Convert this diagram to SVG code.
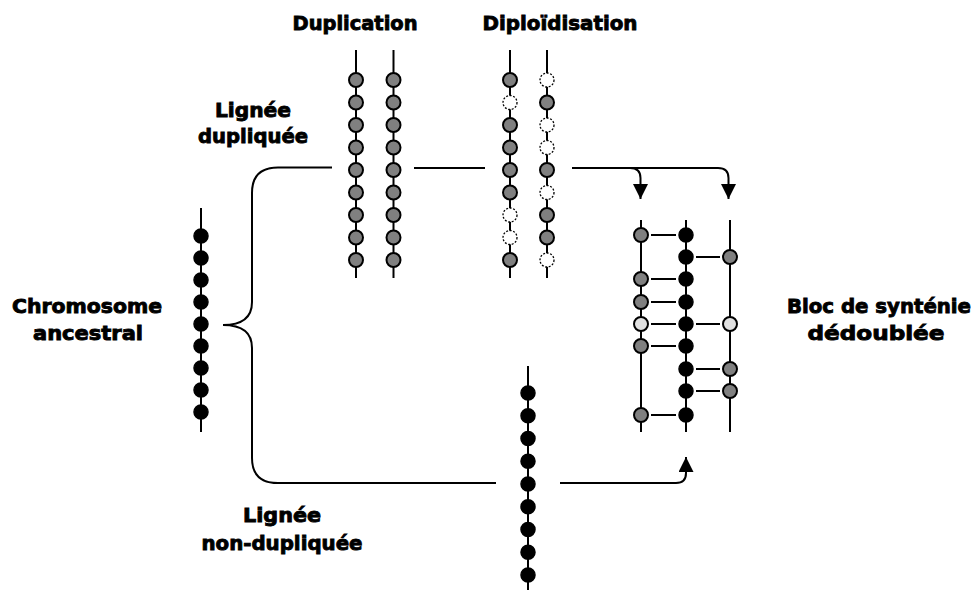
<svg xmlns="http://www.w3.org/2000/svg" width="974" height="590" viewBox="0 0 974 590">
<defs>
<style>
.lbl{font-family:"DejaVu Sans","Liberation Sans",sans-serif;font-weight:bold;font-size:20px;fill:#000;stroke:#000;stroke-width:0.9;text-anchor:middle}
.ax{stroke:#000;stroke-width:2;fill:none}
.b{fill:#000;stroke:#000;stroke-width:1.5}
.g{fill:#808080;stroke:#000;stroke-width:2}
.lg{fill:#e0e0e0;stroke:#000;stroke-width:2}
.d{fill:#fff;stroke:#000;stroke-width:1.3;stroke-dasharray:2 1.6}
.c{stroke:#000;stroke-width:2;fill:none}
</style>
<marker id="ah" viewBox="0 0 15 15" refX="15" refY="7.5" markerWidth="15" markerHeight="15" markerUnits="userSpaceOnUse" orient="auto">
<path d="M0,0 L15,7.5 L0,15 Z" fill="#000"/>
</marker>
</defs>
<rect width="974" height="590" fill="#fff"/>

<g id="connectors">
<path class="c" d="M332 167.5 H278 Q252 167.5 252 193 V302 Q252 325 223 325 Q252 325 252 348 V458 Q252 483 278 483 H496"/>
<path class="c" d="M414 168 H485"/>
<path class="c" d="M572 168 H630 Q640.5 168 640.5 178 V199" marker-end="url(#ah)"/>
<path class="c" d="M630 168 H718 Q728.5 168 728.5 178 V199" marker-end="url(#ah)"/>
<path class="c" d="M560 483 H676 Q686 483 686 473 V457" marker-end="url(#ah)"/>
</g>

<g id="ancestral">
<line class="ax" x1="201" y1="208" x2="201" y2="432"/>
<circle class="b" cx="201" cy="236" r="7"/><circle class="b" cx="201" cy="258" r="7"/><circle class="b" cx="201" cy="280" r="7"/><circle class="b" cx="201" cy="302" r="7"/><circle class="b" cx="201" cy="324" r="7"/><circle class="b" cx="201" cy="346" r="7"/><circle class="b" cx="201" cy="368" r="7"/><circle class="b" cx="201" cy="390" r="7"/><circle class="b" cx="201" cy="412" r="7"/>
</g>

<g id="duplication">
<line class="ax" x1="356" y1="50" x2="356" y2="278"/>
<line class="ax" x1="393.5" y1="50" x2="393.5" y2="278"/>
<g class="g">
<circle cx="356" cy="80" r="7"/><circle cx="356" cy="102.5" r="7"/><circle cx="356" cy="125" r="7"/><circle cx="356" cy="147.5" r="7"/><circle cx="356" cy="170" r="7"/><circle cx="356" cy="192.5" r="7"/><circle cx="356" cy="215" r="7"/><circle cx="356" cy="237.5" r="7"/><circle cx="356" cy="260" r="7"/>
<circle cx="393.5" cy="80" r="7"/><circle cx="393.5" cy="102.5" r="7"/><circle cx="393.5" cy="125" r="7"/><circle cx="393.5" cy="147.5" r="7"/><circle cx="393.5" cy="170" r="7"/><circle cx="393.5" cy="192.5" r="7"/><circle cx="393.5" cy="215" r="7"/><circle cx="393.5" cy="237.5" r="7"/><circle cx="393.5" cy="260" r="7"/>
</g>
</g>

<g id="diploidisation">
<line class="ax" x1="510" y1="50" x2="510" y2="278"/>
<line class="ax" x1="547" y1="50" x2="547" y2="278"/>
<circle class="g" cx="510" cy="80" r="7"/>
<circle class="d" cx="510" cy="102.5" r="7"/>
<circle class="g" cx="510" cy="125" r="7"/>
<circle class="g" cx="510" cy="147.5" r="7"/>
<circle class="g" cx="510" cy="170" r="7"/>
<circle class="g" cx="510" cy="192.5" r="7"/>
<circle class="d" cx="510" cy="215" r="7"/>
<circle class="d" cx="510" cy="237.5" r="7"/>
<circle class="g" cx="510" cy="260" r="7"/>
<circle class="d" cx="547" cy="80" r="7"/>
<circle class="g" cx="547" cy="102.5" r="7"/>
<circle class="d" cx="547" cy="125" r="7"/>
<circle class="d" cx="547" cy="147.5" r="7"/>
<circle class="g" cx="547" cy="170" r="7"/>
<circle class="d" cx="547" cy="192.5" r="7"/>
<circle class="g" cx="547" cy="215" r="7"/>
<circle class="g" cx="547" cy="237.5" r="7"/>
<circle class="d" cx="547" cy="260" r="7"/>
</g>

<g id="nondup">
<line class="ax" x1="528" y1="366" x2="528" y2="590"/>
<circle class="b" cx="528" cy="393" r="7"/><circle class="b" cx="528" cy="415.75" r="7"/><circle class="b" cx="528" cy="438.5" r="7"/><circle class="b" cx="528" cy="461.25" r="7"/><circle class="b" cx="528" cy="484" r="7"/><circle class="b" cx="528" cy="506.75" r="7"/><circle class="b" cx="528" cy="529.5" r="7"/><circle class="b" cx="528" cy="552.25" r="7"/><circle class="b" cx="528" cy="575" r="7"/>
</g>

<g id="synteny">
<line class="ax" x1="641" y1="220" x2="641" y2="432"/>
<line class="ax" x1="686" y1="220" x2="686" y2="432"/>
<line class="ax" x1="730" y1="220" x2="730" y2="432"/>
<g class="ax">
<line x1="651" y1="235" x2="676" y2="235"/>
<line x1="651" y1="279" x2="676" y2="279"/>
<line x1="651" y1="302" x2="676" y2="302"/>
<line x1="651" y1="324" x2="676" y2="324"/>
<line x1="651" y1="346" x2="676" y2="346"/>
<line x1="651" y1="415" x2="676" y2="415"/>
<line x1="696" y1="257" x2="720" y2="257"/>
<line x1="696" y1="324" x2="720" y2="324"/>
<line x1="696" y1="369" x2="720" y2="369"/>
<line x1="696" y1="391" x2="720" y2="391"/>
</g>
<circle class="b" cx="686" cy="235" r="7"/><circle class="b" cx="686" cy="257" r="7"/><circle class="b" cx="686" cy="279" r="7"/><circle class="b" cx="686" cy="302" r="7"/><circle class="b" cx="686" cy="324" r="7"/><circle class="b" cx="686" cy="346" r="7"/><circle class="b" cx="686" cy="369" r="7"/><circle class="b" cx="686" cy="391" r="7"/><circle class="b" cx="686" cy="415" r="7"/>
<circle class="g" cx="641" cy="235" r="7"/>
<circle class="g" cx="641" cy="279" r="7"/>
<circle class="g" cx="641" cy="302" r="7"/>
<circle class="lg" cx="641" cy="324" r="7"/>
<circle class="g" cx="641" cy="346" r="7"/>
<circle class="g" cx="641" cy="415" r="7"/>
<circle class="g" cx="730" cy="257" r="7"/>
<circle class="lg" cx="730" cy="324" r="7"/>
<circle class="g" cx="730" cy="369" r="7"/>
<circle class="g" cx="730" cy="391" r="7"/>
</g>

<g id="labels">
<text class="lbl" x="355" y="30" textLength="125" lengthAdjust="spacingAndGlyphs">Duplication</text>
<text class="lbl" x="560" y="30" textLength="155" lengthAdjust="spacingAndGlyphs">Diploïdisation</text>
<text class="lbl" x="253" y="117" textLength="76" lengthAdjust="spacingAndGlyphs">Lignée</text>
<text class="lbl" x="253" y="143" textLength="110" lengthAdjust="spacingAndGlyphs">dupliquée</text>
<text class="lbl" x="87" y="313" textLength="150" lengthAdjust="spacingAndGlyphs">Chromosome</text>
<text class="lbl" x="88" y="340" textLength="110" lengthAdjust="spacingAndGlyphs">ancestral</text>
<text class="lbl" x="879" y="313" textLength="184" lengthAdjust="spacingAndGlyphs">Bloc de synténie</text>
<text class="lbl" x="876" y="340" textLength="137" lengthAdjust="spacingAndGlyphs">dédoublée</text>
<text class="lbl" x="282" y="522" textLength="78" lengthAdjust="spacingAndGlyphs">Lignée</text>
<text class="lbl" x="282" y="550" textLength="161" lengthAdjust="spacingAndGlyphs">non-dupliquée</text>
</g>
</svg>
